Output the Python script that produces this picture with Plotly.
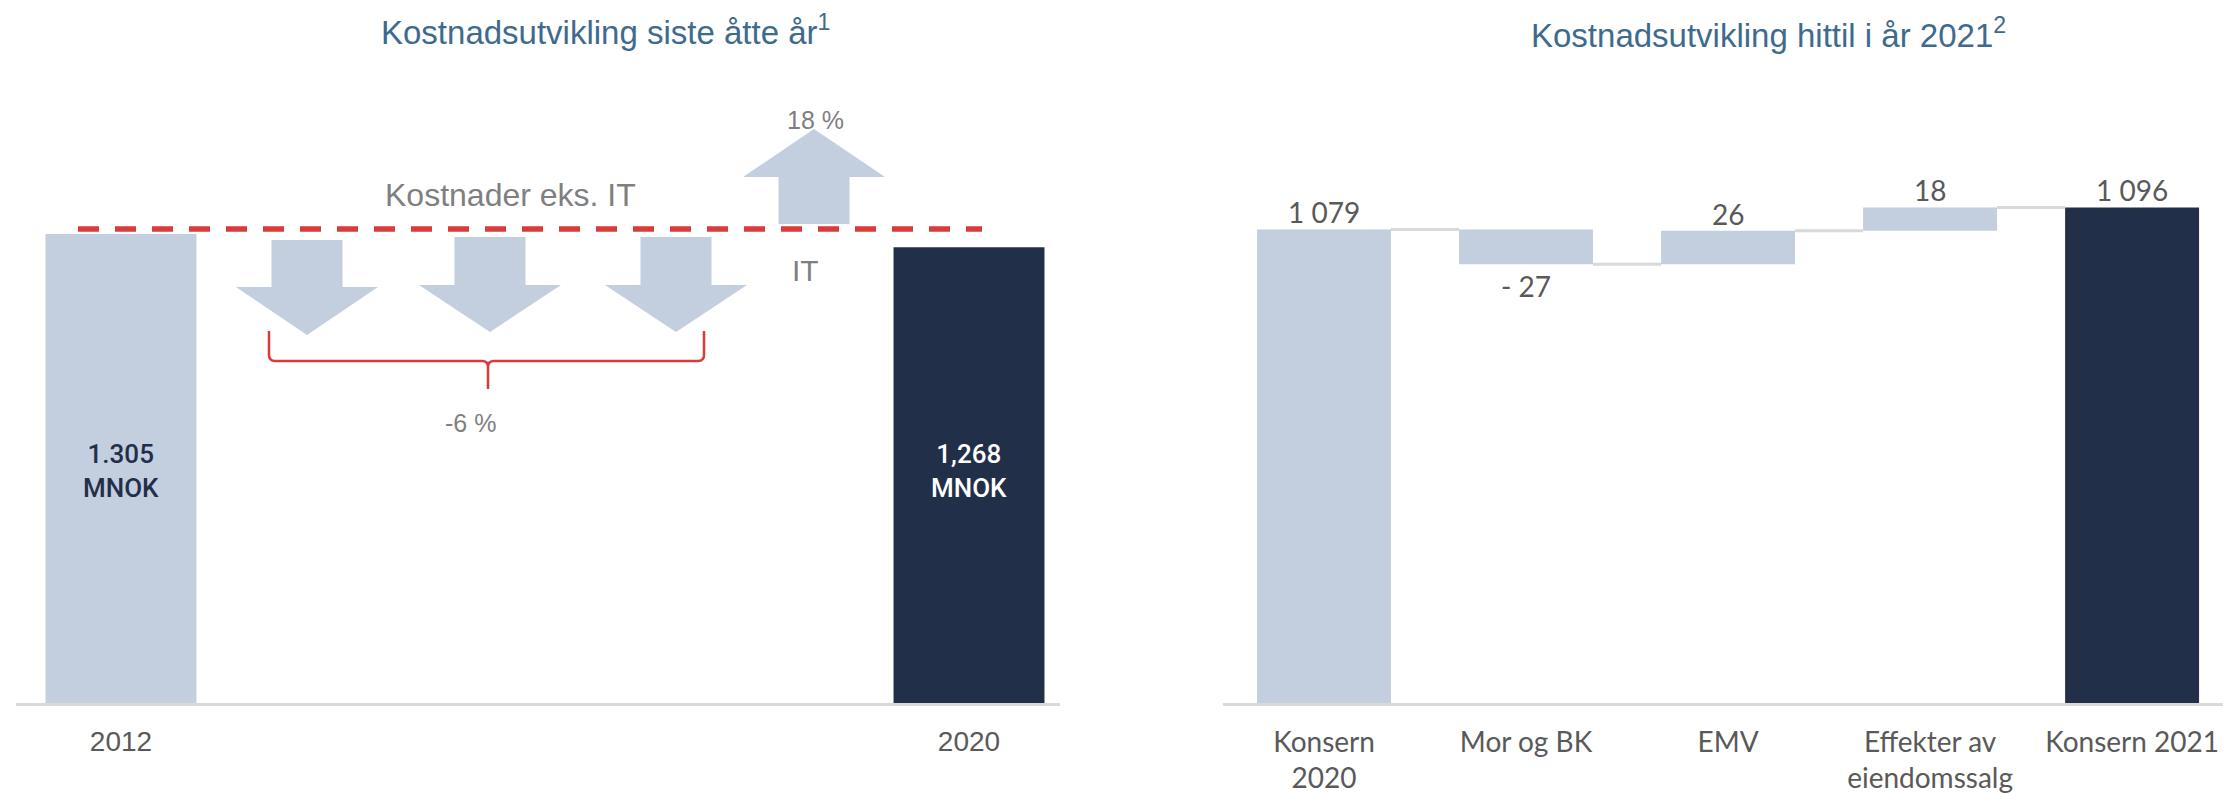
import plotly.graph_objects as go

# ---------------- data ----------------
years = ["2012", "2020"]
year_costs = [1305, 1268]
year_labels = ["1.305<br>MNOK", "1,268<br>MNOK"]

wf_categories = ["Konsern<br>2020", "Mor og BK", "EMV", "Effekter av<br>eiendomssalg", "Konsern 2021"]
wf_values = [1079, -27, 26, 18, 1096]
wf_measure = ["total", "relative", "relative", "relative", "total"]

pct_it = "18 %"
pct_ex_it = "-6 %"

# ---------------- styling ----------------
W, H = 2223, 797
LIGHT = "#c3cede"
NAVY = "#222f49"
RED = "#d93b3b"
GRAY_TXT = "#595959"
GRAY_LBL = "#7f7f7f"
TITLE_C = "#3e6a8e"
AXIS_C = "#d9d9d9"
FONT = "Liberation Sans, Arial, sans-serif"
FONT_R = "Lato, Liberation Sans, sans-serif"

# plot-area geometry (pixels)
BOTTOM_PX, TOP_PX = 703, 60
L_X0, L_X1 = 16, 1060
R_X0, R_X1 = 1223, 2223

# left axis ranges
L_XR = [(L_X0 - 121) / 848, (L_X1 - 121) / 848]
L_YR = [0, (BOTTOM_PX - TOP_PX) / 0.3594]
# right axis ranges
R_XR = [-0.5, 4.45]
R_YR = [713, 713 + (BOTTOM_PX - TOP_PX) / 1.294]


def px2x(px):
    return L_XR[0] + (px - L_X0) / (L_X1 - L_X0) * (L_XR[1] - L_XR[0])


def px2y(py):
    return L_YR[0] + (BOTTOM_PX - py) / (BOTTOM_PX - TOP_PX) * (L_YR[1] - L_YR[0])


fig = go.Figure()

# ---------- left panel bars ----------
fig.add_trace(go.Bar(
    x=[0, 1], y=year_costs, width=0.178,
    marker=dict(color=[LIGHT, NAVY], line=dict(width=0)),
    xaxis="x", yaxis="y", hoverinfo="skip", showlegend=False,
))

# ---------- right panel waterfall (bars with bases) ----------
bases, heights, tops = [], [], []
running = 0
for v, m in zip(wf_values, wf_measure):
    if m == "total":
        bases.append(0)
        heights.append(v)
        running = v
    else:
        bases.append(running)
        heights.append(v)
        running += v
    tops.append(running)

colors = [LIGHT] * len(wf_values)
colors[-1] = NAVY
xs = list(range(len(wf_values)))
fig.add_trace(go.Bar(
    x=xs, y=heights, base=bases, width=0.663,
    marker=dict(color=colors, line=dict(width=0)),
    xaxis="x2", yaxis="y2", hoverinfo="skip", showlegend=False,
))

# connectors
for i in range(len(wf_values) - 1):
    fig.add_trace(go.Scatter(
        x=[i + 0.3315, i + 1 - 0.3315], y=[tops[i], tops[i]], mode="lines",
        line=dict(color=AXIS_C, width=3), xaxis="x2", yaxis="y2",
        hoverinfo="skip", showlegend=False,
    ))


def fmt(v, m):
    if m == "total":
        return f"{v:,}".replace(",", " ")
    return f"- {abs(v)}" if v < 0 else f"{v}"


annotations = []
for i, (v, m) in enumerate(zip(wf_values, wf_measure)):
    shift = -22 if v < 0 else 17
    annotations.append(dict(
        x=i, y=tops[i], xref="x2", yref="y2", text=fmt(v, m), showarrow=False,
        yshift=shift, xanchor="center", yanchor="middle",
        font=dict(family=FONT_R, size=28, color=GRAY_TXT),
    ))

# bar labels in left panel
for i, lbl in enumerate(year_labels):
    annotations.append(dict(
        x=i, y=px2y(471), xref="x", yref="y", text=lbl, showarrow=False,
        xanchor="center", yanchor="middle",
        font=dict(family="Roboto, Liberation Sans, sans-serif", size=26,
                  color=NAVY if i == 0 else "#ffffff", weight=500),
        align="center",
    ))

# titles
annotations.append(dict(x=605 / W, y=1 - 30 / H, xref="paper", yref="paper",
                        xanchor="center", yanchor="middle",
                        text="Kostnadsutvikling siste åtte år<sup>1</sup>", showarrow=False,
                        font=dict(family=FONT, size=33, color=TITLE_C)))
annotations.append(dict(x=1768 / W, y=1 - 33 / H, xref="paper", yref="paper",
                        xanchor="center", yanchor="middle",
                        text="Kostnadsutvikling hittil i år 2021<sup>2</sup>", showarrow=False,
                        font=dict(family=FONT, size=33, color=TITLE_C)))

# left panel texts
for txt, px, py, sz in [("Kostnader eks. IT", 510, 195, 32), (pct_it, 815, 120, 25),
                        ("IT", 805, 271, 30), (pct_ex_it, 470, 423, 25)]:
    annotations.append(dict(x=px2x(px), y=px2y(py), xref="x", yref="y", text=txt,
                            xanchor="center", yanchor="middle",
                            showarrow=False, font=dict(family=FONT, size=sz, color=GRAY_LBL)))

shapes = []


def P(px, py):
    return f"{px2x(px)},{px2y(py)}"


def down_arrow(cx, top, base, tip, sh=35.5, hh=71):
    return ("M " + P(cx - sh, top) + " L " + P(cx + sh, top) + " L " + P(cx + sh, base) +
            " L " + P(cx + hh, base) + " L " + P(cx, tip) + " L " + P(cx - hh, base) +
            " L " + P(cx - sh, base) + " Z")


for cx, top, base, tip in [(307, 240, 287, 335), (490, 237, 285, 332), (676, 237, 285, 332)]:
    shapes.append(dict(type="path", xref="x", yref="y", path=down_arrow(cx, top, base, tip),
                       fillcolor=LIGHT, line=dict(width=0)))
# up arrow
shapes.append(dict(type="path", xref="x", yref="y",
                   path=down_arrow(814, 224, 177, 129), fillcolor=LIGHT, line=dict(width=0)))

# red dashed line
shapes.append(dict(type="line", xref="x", yref="y", x0=px2x(78), x1=px2x(982),
                   y0=px2y(229), y1=px2y(229), line=dict(color=RED, width=5.5, dash="21px,16px")))

# bracket
bx0, bx1, bcx, btop, bh, bbot, r = 269, 704, 488, 331, 361, 389, 6
brace = ("M " + P(bx0, btop) + " L " + P(bx0, bh - r) + " Q " + P(bx0, bh) + " " + P(bx0 + r, bh) +
         " L " + P(bcx - r, bh) + " Q " + P(bcx, bh) + " " + P(bcx, bh + r) + " L " + P(bcx, bbot) +
         " M " + P(bcx, bh + r) + " Q " + P(bcx, bh) + " " + P(bcx + r, bh) +
         " L " + P(bx1 - r, bh) + " Q " + P(bx1, bh) + " " + P(bx1, bh - r) + " L " + P(bx1, btop))
shapes.append(dict(type="path", xref="x", yref="y", path=brace,
                   line=dict(color=RED, width=2.5)))

ydom = [1 - BOTTOM_PX / H, 1 - TOP_PX / H]
fig.update_layout(
    width=W, height=H, margin=dict(l=0, r=0, t=0, b=0),
    paper_bgcolor="white", plot_bgcolor="white", barmode="overlay",
    xaxis=dict(domain=[L_X0 / W, L_X1 / W], range=L_XR, tickvals=[0, 1], ticktext=years,
               showline=True, linecolor=AXIS_C, linewidth=3, showgrid=False, zeroline=False,
               ticks="", ticklabelstandoff=11,
               tickfont=dict(family=FONT, size=28, color=GRAY_TXT)),
    yaxis=dict(domain=ydom, range=L_YR, visible=False),
    xaxis2=dict(domain=[R_X0 / W, 1.0], range=R_XR, tickvals=xs, ticktext=wf_categories,
                anchor="y2", showline=True, linecolor=AXIS_C, linewidth=3, showgrid=False,
                zeroline=False, ticks="", ticklabelstandoff=12,
                tickfont=dict(family=FONT_R, size=28, color=GRAY_TXT)),
    yaxis2=dict(domain=ydom, range=R_YR, visible=False, anchor="x2"),
    annotations=annotations, shapes=shapes,
)

fig.write_html("out.html", config={"displayModeBar": False},
               post_script="document.body.style.margin='0';document.body.style.overflow='hidden';")
